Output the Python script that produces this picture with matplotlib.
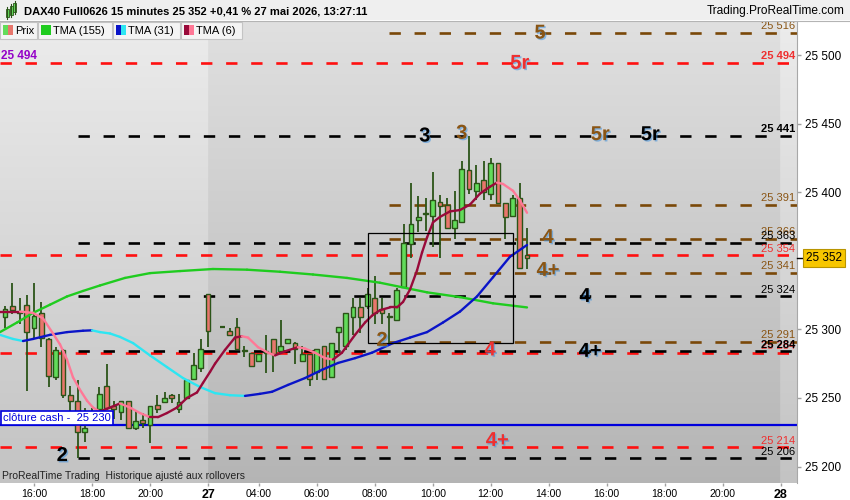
import numpy as np
import matplotlib
matplotlib.use('Agg')
import matplotlib.pyplot as plt
from matplotlib.patches import Rectangle
from matplotlib.collections import LineCollection
import matplotlib.patheffects as pe

plt.rcParams['font.family'] = ['Liberation Sans', 'DejaVu Sans']

W, H = 850, 500

# 15 minute bars, bar 0 = 26 mai 15:00 (nan = no bar drawn)
opens = [25309, 25317, 25313, 25318, 25301, 25312, 25293, 25265, 25285, 25252,
         25248, 25225, 25238, 25242, 25259, 25244, 25240, 25248, 25228, 25234,
         25230, 25245, 25247, 25252, 25242, 25250, 25264, 25272, 25326, np.nan,
         25302, 25299, 25302, 25285, 25283, 25277, 25283, 25293, 25284, 25290,
         25290, 25277, 25282, 25269, 25288, 25265, 25298, 25288, 25309, 25316,
         25317, 25323, 25315, 25310, 25307, 25331, 25362, 25380, 25384, 25383,
         25393, 25391, 25374, 25378, 25416, 25401, 25409, 25399, 25421, 25392,
         25383, 25396, 25354]
highs = [25317, 25334, 25323, 25325, 25334, 25320, 25294, 25287, 25286, 25259,
         25263, 25243, 25243, 25258, 25275, 25248, 25248, 25248, 25241, 25239,
         25244, 25252, 25254, 25253, 25253, 25264, 25283, 25293, 25326, np.nan,
         25302, 25301, 25308, 25288, 25283, 25282, 25296, 25293, 25307, 25293,
         25291, 25288, 25282, 25286, 25288, 25290, 25302, 25312, 25323, 25323,
         25330, 25339, 25323, 25312, 25330, 25377, 25407, 25397, 25396, 25415,
         25398, 25396, 25401, 25423, 25441, 25420, 25423, 25425, 25421, 25392,
         25398, 25407, 25374]
lows = [25301, 25311, 25304, 25255, 25294, 25287, 25258, 25263, 25250, 25235,
        25206, 25218, 25234, 25241, 25241, 25235, 25234, 25228, 25227, 25228,
        25217, 25239, 25246, 25246, 25239, 25249, 25263, 25269, 25287, np.nan,
        25302, 25296, 25286, 25280, 25273, 25277, 25268, 25269, 25284, 25290,
        25275, 25277, 25259, 25263, 25263, 25265, 25283, 25285, 25296, 25297,
        25315, 25304, 25304, 25290, 25306, 25330, 25352, 25371, 25372, 25360,
        25352, 25374, 25366, 25378, 25399, 25394, 25394, 25394, 25392, 25366,
        25382, 25345, 25344]
closes = [25315, 25314, 25312, 25298, 25310, 25294, 25266, 25285, 25252, 25248,
          25225, 25228, 25240, 25253, 25243, 25242, 25248, 25228, 25233, 25232,
          25244, 25242, 25250, 25250, 25247, 25263, 25274, 25286, 25299, np.nan,
          25302, 25296, 25286, 25284, 25273, 25282, 25284, 25282, 25288, 25293,
          25286, 25282, 25264, 25286, 25264, 25290, 25302, 25312, 25316, 25309,
          25326, 25312, 25312, 25309, 25329, 25363, 25377, 25382, 25385, 25394,
          25390, 25374, 25380, 25417, 25402, 25407, 25400, 25421, 25392, 25382,
          25396, 25345, 25352]

# TMA curves (bar position, value)
tma6_x = [-0.69, 2.07, 3.86, 5.24, 6.62, 7.59, 8.55, 9.38, 10.34, 11.31, 12.14, 13.10,
          14.48, 15.86, 17.24, 18.62, 20.0, 21.1, 22.34, 23.72, 25.1, 26.48, 27.31,
          28.28, 28.97, 30.34, 31.72, 32.69, 33.52, 34.9, 36.28, 37.24, 38.62, 40.41,
          41.38, 42.76, 44.14, 45.24, 46.48, 47.31, 48.28, 49.66, 50.62, 51.72, 53.1,
          54.07, 54.9, 55.86, 56.83, 57.52, 58.21, 59.03, 60.0, 61.38, 62.76, 64.14,
          65.52, 66.9, 67.86, 68.69, 70.07, 71.03, 72.0]
tma6_v = [25313, 25313, 25312, 25308, 25297, 25289, 25278, 25265, 25256, 25248, 25243,
          25240, 25243, 25246, 25243, 25239, 25236, 25236, 25239, 25243, 25250, 25254,
          25261, 25269, 25275, 25285, 25294, 25295, 25294, 25287, 25283, 25281, 25284,
          25287, 25286, 25283, 25279, 25278, 25283, 25289, 25296, 25305, 25310, 25314,
          25316, 25316, 25320, 25329, 25343, 25356, 25367, 25378, 25382, 25386, 25387,
          25391, 25399, 25404, 25407, 25406, 25401, 25394, 25385]
tma31_x = [-0.69, 1.10, 2.48, 3.86, 6.21, 8.55, 10.76, 12.0, 13.1, 14.48, 15.86, 17.66,
           20.0, 22.34, 24.55, 26.9, 28.97, 31.03, 33.1, 35.17, 36.83, 39.03, 41.38,
           43.72, 45.93, 48.28, 50.62, 53.52, 55.86, 58.21, 60.41, 62.76, 65.1, 67.31,
           69.66, 72.0]
tma31_v = [25296, 25293, 25291.5, 25293, 25296, 25298, 25299, 25299.3, 25298, 25297,
           25294.5, 25290, 25281, 25272.5, 25264.5, 25258, 25253.5, 25252, 25251.5,
           25253, 25254.5, 25259.5, 25264.5, 25270.5, 25275.5, 25279, 25283, 25290,
           25294, 25298, 25305, 25313, 25324, 25338, 25353, 25361.5]
tma155_x = [-0.69, 1.66, 3.86, 6.21, 8.55, 10.76, 13.1, 16.55, 20.0, 24.14, 28.69, 33.38,
            37.93, 42.48, 47.17, 51.72, 58.21, 62.76, 67.31, 72.0]
tma155_v = [25298, 25305, 25312, 25318, 25324, 25328, 25332, 25337.5, 25341, 25342.5,
            25344, 25343.5, 25342, 25340, 25337.5, 25334, 25327, 25323.5, 25319, 25316]

tick_pos = [4, 12, 20, 28, 35, 43, 51, 59, 67, 75, 83, 91, 99, 107]
tick_labels = ['16:00', '18:00', '20:00', '27', '04:00', '06:00', '08:00', '10:00',
               '12:00', '14:00', '16:00', '18:00', '20:00', '28']
price_ticks = [25200, 25250, 25300, 25400, 25450, 25500]

black_levels = [25441, 25363, 25324, 25284, 25206]
brown_levels = [25516, 25391, 25366, 25341, 25291]
red_levels = [25494, 25354, 25283, 25214]
cash_close = 25230
last_price = 25352
box_bars = (50, 70)
box_prices = (25290.3, 25369.9)

count_text = ['5', '5r', '3', '3', '5r', '5r', '4', '4+', '4', '4+', '4', '4+', '2', '2']
count_bar = [73.8, 71.0, 57.9, 63.0, 82.1, 89.0, 74.9, 74.9, 80.0, 80.7, 66.9, 67.9, 52.0, 7.9]
count_price = [25516, 25494, 25441, 25443, 25442, 25442, 25367, 25343, 25324, 25284,
               25285, 25219, 25292, 25208]
count_col = ['brown', 'red', 'black', 'brown', 'brown', 'black', 'brown', 'brown',
             'black', 'black', 'red', 'red', 'brown', 'black']

COLS = {'black': '#000000', 'brown': '#7a4808', 'red': '#ff1010'}
LABEL_COLS = {'black': '#000000', 'brown': '#8a5514', 'red': '#ee3030'}
EDGE = '#2b5418'
GREEN = '#62dc5a'
RED = '#e8766c'


def fmt(p):
    return '{:,}'.format(int(round(p))).replace(',', ' ')


def fpx(x, y):
    return x / W, 1 - y / H


fig = plt.figure(figsize=(W / 100, H / 100), dpi=100)
fig.patch.set_facecolor('white')
ax = fig.add_axes([0, 17 / H, 797 / W, 462 / H])
x0, x1 = -0.69, 109.24
y0, y1 = 25188.0, 25524.8

# background: lighter session zones, vertical gradient
xs = np.linspace(x0, x1, 900)
light = (xs < 28) | (xs > 107)
top = np.where(light, 0.925, 0.878)
bot = np.where(light, 0.765, 0.708)
frac = np.linspace(0, 1, 200)[:, None]
img = bot[None, :] + (top - bot)[None, :] * frac
ax.imshow(np.dstack([img] * 3), extent=[x0, x1, y0, y1], origin='lower',
          aspect='auto', zorder=0, interpolation='bilinear')

dash = (0, (4.3, 5.2))
for p in red_levels:
    ax.plot([x0, x1], [p, p], color=COLS['red'], lw=1.9, ls=dash, zorder=1)
for p in black_levels:
    ax.plot([10, x1], [p, p], color=COLS['black'], lw=1.9, ls=dash, zorder=1.2)
for p in brown_levels:
    ax.plot([53, x1], [p, p], color=COLS['brown'], lw=1.9, ls=dash, zorder=1.1)
ax.axhline(cash_close, color='#0000dd', lw=1.6, zorder=1.3)

# level values at the right edge
for lv, key in [(brown_levels, 'brown'), (red_levels, 'red'), (black_levels, 'black')]:
    for p in lv:
        bold = p in (25494, 25441, 25284)
        shown = 25284 if p == 25283 else p
        ax.text(109.0, p + 1.3, fmt(shown), ha='right', va='bottom', fontsize=8,
                color=LABEL_COLS[key], fontweight='bold' if bold else 'normal', zorder=6)
ax.text(-0.5, 25499, fmt(25494), ha='left', va='center', fontsize=8.5,
        fontweight='bold', color='#9400c8', zorder=6)

# candles
for i in range(len(opens)):
    o, h, l, c = opens[i], highs[i], lows[i], closes[i]
    if np.isnan(o):
        continue
    ax.vlines(i, l, h, color=EDGE, lw=1.3, zorder=3)
    lo, hi = min(o, c), max(o, c)
    if hi - lo < 1:
        ax.hlines((o + c) / 2, i - 0.34, i + 0.34, color=EDGE, lw=1.6, zorder=3.5)
    else:
        ax.add_patch(Rectangle((i - 0.34, lo), 0.68, hi - lo, fc=GREEN if c > o else RED,
                               ec=EDGE, lw=1.0, zorder=3.5))


def ma_line(xv, vv, up, down):
    pts = np.column_stack([xv, vv])
    segs = np.stack([pts[:-1], pts[1:]], axis=1)
    cols = [up if b >= a else down for a, b in zip(vv[:-1], vv[1:])]
    ax.add_collection(LineCollection(segs, colors=cols, lw=1.7, zorder=4,
                                     capstyle='round', joinstyle='round'))


ma_line(tma155_x, tma155_v, '#1fcc1f', '#1fcc1f')
ma_line(tma31_x, tma31_v, '#0a14c8', '#2de6f2')
ma_line(tma6_x, tma6_v, '#990a3a', '#ff7896')

ax.add_patch(Rectangle((box_bars[0], box_prices[0]), box_bars[1] - box_bars[0],
                       box_prices[1] - box_prices[0], fill=False, ec='black', lw=0.9, zorder=4.5))

shadow = [pe.withSimplePatchShadow(offset=(1, -1), shadow_rgbFace='#3a90e0', alpha=0.55)]
for t, b, p, k in zip(count_text, count_bar, count_price, count_col):
    ax.text(b, p, t, ha='center', va='center', fontsize=14.5, fontweight='bold',
            color=LABEL_COLS[k], zorder=6, path_effects=shadow)

ax.set_xlim(x0, x1)
ax.set_ylim(y0, y1)
for s in ['left', 'top', 'bottom']:
    ax.spines[s].set_visible(False)
ax.spines['right'].set_color('#a8a8a8')
ax.yaxis.tick_right()
ax.set_yticks(price_ticks)
ax.set_yticklabels([fmt(p) for p in price_ticks])
ax.tick_params(axis='y', length=3, width=1, color='#a0a0a0', labelsize=8.5, pad=3)
ax.set_xticks(tick_pos)
ax.set_xticklabels(tick_labels)
ax.tick_params(axis='x', length=2, width=1, color='#a0a0a0', labelsize=7.6, pad=2)
for lab in ax.get_xticklabels():
    if lab.get_text() in ('27', '28'):
        lab.set_fontweight('bold')
        lab.set_fontsize(9)

# title bar
fig.add_artist(Rectangle((0, 1 - 20 / H), 1, 20 / H, transform=fig.transFigure,
                         fc='#efefef', ec='none'))
fig.add_artist(plt.Line2D([0, 1], [1 - 20.5 / H] * 2, transform=fig.transFigure,
                          color='#b4b4b4', lw=0.8))
for k, (cx, yt, yb) in enumerate([(7, 9, 17), (11, 6, 15), (15, 3, 12)]):
    fig.add_artist(plt.Line2D([cx / W] * 2, [1 - (yt - 2) / H, 1 - (yb + 2) / H],
                              transform=fig.transFigure, color=EDGE, lw=0.8))
    fig.add_artist(Rectangle(fpx(cx - 1.5, yb), 3 / W, (yb - yt) / H,
                             transform=fig.transFigure, fc=GREEN, ec=EDGE, lw=0.6))
fig.text(*fpx(24, 11), 'DAX40 Full0626 15 minutes 25 352 +0,41 % 27 mai 2026, 13:27:11',
         ha='left', va='center', fontsize=8, fontweight='bold')
fig.text(*fpx(845, 11), 'Trading.ProRealTime.com', ha='right', va='center', fontsize=8.6)

# indicator legend row
legend = [(0, 37, 'Prix', [GREEN, RED]), (38, 112, 'TMA (155)', ['#1fcc1f']),
          (113, 180, 'TMA (31)', ['#0a14c8', '#2de6f2']),
          (181, 242, 'TMA (6)', ['#990a3a', '#ff7896'])]
for xa, xb, name, sw in legend:
    fig.add_artist(Rectangle(fpx(xa, 39), (xb - xa) / W, 17 / H, transform=fig.transFigure,
                             fc='#f4f4f4', ec='#c4c4c4', lw=0.8))
    if len(sw) == 1:
        fig.add_artist(Rectangle(fpx(xa + 3, 35), 10 / W, 10 / H, transform=fig.transFigure,
                                 fc=sw[0], ec='none'))
    else:
        for j, c in enumerate(sw):
            fig.add_artist(Rectangle(fpx(xa + 3 + 5 * j, 35), 5 / W, 10 / H,
                                     transform=fig.transFigure, fc=c, ec='none'))
    fig.text(*fpx(xa + 15, 30.5), name, ha='left', va='center', fontsize=8)

fig.text(*fpx(2, 476), 'ProRealTime Trading  Historique ajusté aux rollovers',
         ha='left', va='center', fontsize=7.5, color='#222222')
fig.text(*fpx(3, 418), 'clôture cash -  ' + fmt(cash_close), ha='left', va='center',
         fontsize=8, color='#0000dd',
         bbox=dict(boxstyle='square,pad=0.22', fc='white', ec='#0000dd', lw=1.2))
fig.add_artist(plt.Line2D([797 / W, 803 / W], [1 - 258 / H] * 2, transform=fig.transFigure,
                          color='black', lw=1))
fig.text(*fpx(806, 258), fmt(last_price), ha='left', va='center', fontsize=8.5,
         bbox=dict(boxstyle='square,pad=0.25', fc='#f7c600', ec='#b89400', lw=0.8))

fig.savefig('out.png', dpi=100)
